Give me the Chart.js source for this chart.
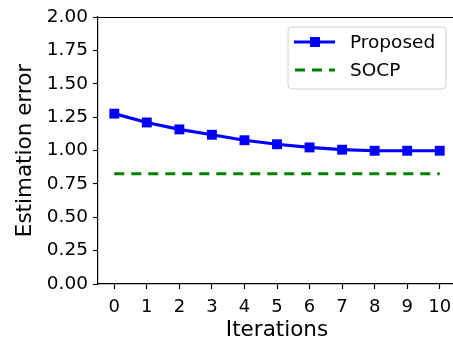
<!DOCTYPE html>
<html>
<head>
<meta charset="utf-8">
<script src="https://cdn.jsdelivr.net/npm/chart.js@4.4.1/dist/chart.umd.min.js"></script>
<style>
html,body{margin:0;padding:0;background:#fff;overflow:hidden;width:453px;height:339px;}
canvas{display:block;}
</style>
</head>
<body>
<canvas id="c" width="463" height="339" style="width:463px;height:339px"></canvas>
<script>
const iterations = [0,1,2,3,4,5,6,7,8,9,10];
const proposed = [1.276,1.21,1.158,1.118,1.077,1.047,1.023,1.006,0.998,0.998,0.998];
const socp = [0.825,0.825,0.825,0.825,0.825,0.825,0.825,0.825,0.825,0.825,0.825];
const yTicks = [0,0.25,0.5,0.75,1.0,1.25,1.5,1.75,2.0];
const seriesNames = ['Proposed','SOCP'];

const FONT = "'DejaVu Sans', sans-serif";

const frame = {
  id:'frame',
  afterDraw(chart){
    const {ctx, chartArea:a} = chart;
    ctx.save();
    ctx.strokeStyle = '#000';
    ctx.lineWidth = 1.2;
    ctx.beginPath();
    ctx.moveTo(a.left, a.top+0.5); ctx.lineTo(a.right, a.top+0.5);
    ctx.stroke();
    // legend
    const x0=288, y0=27, w=158, h=62, r=4;
    ctx.beginPath();
    ctx.moveTo(x0+r,y0); ctx.lineTo(x0+w-r,y0); ctx.quadraticCurveTo(x0+w,y0,x0+w,y0+r);
    ctx.lineTo(x0+w,y0+h-r); ctx.quadraticCurveTo(x0+w,y0+h,x0+w-r,y0+h);
    ctx.lineTo(x0+r,y0+h); ctx.quadraticCurveTo(x0,y0+h,x0,y0+h-r);
    ctx.lineTo(x0,y0+r); ctx.quadraticCurveTo(x0,y0,x0+r,y0);
    ctx.closePath();
    ctx.fillStyle='rgba(255,255,255,0.8)'; ctx.fill();
    ctx.strokeStyle='#d0d0d0'; ctx.lineWidth=1; ctx.stroke();
    // Proposed
    ctx.strokeStyle='#0000ff'; ctx.lineWidth=3;
    ctx.beginPath(); ctx.moveTo(294,42); ctx.lineTo(335,42); ctx.stroke();
    ctx.fillStyle='#0000ff'; ctx.fillRect(310,37,10,10);
    // SOCP
    ctx.strokeStyle='#008000'; ctx.setLineDash([10,7]);
    ctx.beginPath(); ctx.moveTo(295,70); ctx.lineTo(335,70); ctx.stroke();
    ctx.setLineDash([]);
    ctx.fillStyle='#000'; ctx.font='18.5px '+FONT; ctx.textBaseline='middle'; ctx.textAlign='left';
    ctx.fillText(seriesNames[0],350,43);
    ctx.fillText(seriesNames[1],350,71);
    ctx.restore();
  }
};

new Chart(document.getElementById('c'), {
  type:'line',
  data:{
    labels: iterations,
    datasets:[
      {label:seriesNames[0], data:iterations.map((x,i)=>({x,y:proposed[i]})), borderColor:'#0000ff', backgroundColor:'#0000ff', borderWidth:3.2, pointStyle:'rect', pointRadius:7, pointBorderWidth:0, tension:0},
      {label:seriesNames[1], data:iterations.map((x,i)=>({x,y:socp[i]})), borderColor:'#008000', borderWidth:3, borderDash:[10,7], pointRadius:0, tension:0}
    ]
  },
  plugins:[frame],
  options:{
    responsive:false, animation:false,
    layout:{padding:{top:17,right:0,left:0,bottom:0}},
    plugins:{legend:{display:false}, tooltip:{enabled:false}},
    scales:{
      x:{type:'linear', min:-0.5, max:10.5,
        afterBuildTicks(s){ s.ticks = iterations.map(v=>({value:v})); },
        afterFit(s){ s.height = 55; },
        grid:{drawOnChartArea:false, drawTicks:true, tickLength:5, color:'#000', tickWidth:1.2},
        border:{display:true, color:'#000', width:1.2},
        ticks:{color:'#000', font:{family:FONT,size:18}, padding:8, maxRotation:0, autoSkip:false},
        title:{display:true, text:'Iterations', color:'#000', font:{family:FONT,size:21.5}, padding:{top:0,bottom:-4}}
      },
      y:{type:'linear', min:0, max:2,
        afterBuildTicks(s){ s.ticks = yTicks.map(v=>({value:v})); },
        afterFit(s){ s.width = 98; },
        grid:{drawOnChartArea:false, drawTicks:true, tickLength:5, color:'#000', tickWidth:1.2},
        border:{display:true, color:'#000', width:1.2},
        ticks:{color:'#000', font:{family:FONT,size:18.5}, padding:5, callback:v=>v.toFixed(2)},
        title:{display:true, text:'Estimation error', color:'#000', font:{family:FONT,size:21.5}, padding:{top:13,bottom:0}}
      }
    }
  }
});
</script>
</body>
</html>
